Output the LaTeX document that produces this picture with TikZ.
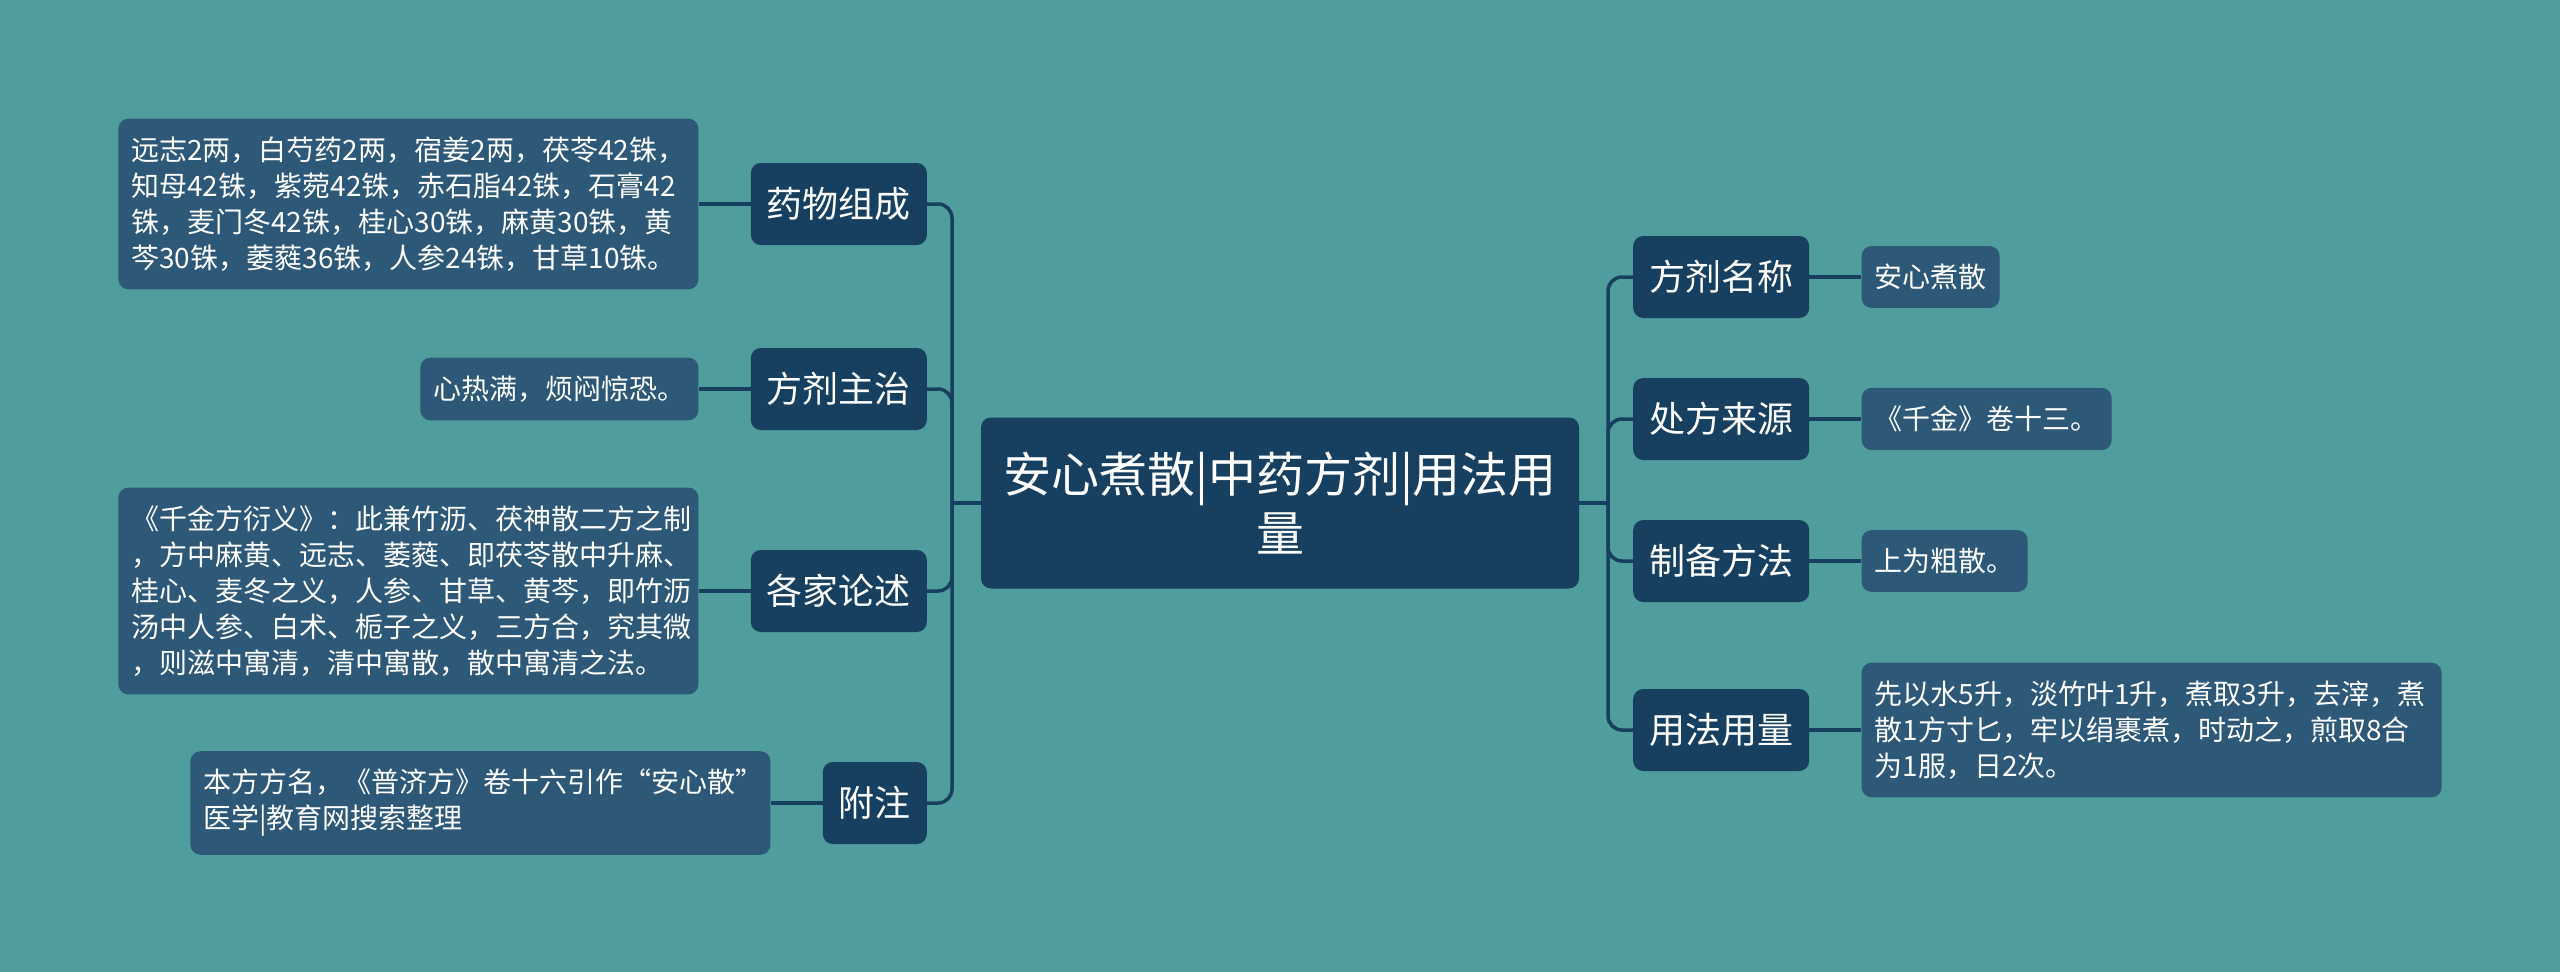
\documentclass[tikz,border=0pt]{standalone}
\usepackage{fontspec}
\setmainfont{Noto Sans CJK SC}
\usepackage{tikz}
\usetikzlibrary{positioning}

\definecolor{mapbg}{HTML}{4F9D9D}
\definecolor{mapdark}{HTML}{173F5F}
\definecolor{mapleaf}{HTML}{2E5878}

\begin{document}
\begin{tikzpicture}[x=1pt, y=-1pt,
  root/.style={fill=mapdark, rounded corners=10pt, text=white, align=center,
    font=\fontsize{48}{59}\selectfont, minimum width=598pt, minimum height=171pt},
  topic/.style={fill=mapdark, rounded corners=10pt, text=white,
    font=\fontsize{36}{42}\selectfont, inner xsep=16pt, minimum height=82pt},
  leaf/.style={fill=mapleaf, rounded corners=10pt, text=white, align=left,
    font=\fontsize{28}{36}\selectfont, inner xsep=13pt, inner ysep=18pt},
  link/.style={draw=mapdark, line width=3.5pt, rounded corners=14pt}]
\fill[mapbg] (0,0) rectangle (2560,972);

% centre
\node[root] (root) at (1280,503) {安心煮散|中药方剂|用法用\\量};
\coordinate (jl) at (952,503);
\coordinate (jr) at (1608,503);

% left branches
\node[topic, anchor=east] (drug) at (927,204) {药物组成};
\node[topic, anchor=east] (cure) at (927,389) {方剂主治};
\node[topic, anchor=east] (review) at (927,591) {各家论述};
\node[topic, anchor=east] (note) at (927,803) {附注};

\node[leaf, text width=554pt, left=52pt of drug] (drugL) {远志2两，白芍药2两，宿姜2两，茯苓42铢，\\知母42铢，紫菀42铢，赤石脂42铢，石膏42\\铢，麦门冬42铢，桂心30铢，麻黄30铢，黄\\芩30铢，萎蕤36铢，人参24铢，甘草10铢。};
\node[leaf, left=52pt of cure] (cureL) {心热满，烦闷惊恐。};
\node[leaf, text width=554pt, left=52pt of review] (reviewL) {《千金方衍义》：此兼竹沥、茯神散二方之制\\，方中麻黄、远志、萎蕤、即茯苓散中升麻、\\桂心、麦冬之义，人参、甘草、黄芩，即竹沥\\汤中人参、白术、栀子之义，三方合，究其微\\，则滋中寓清，清中寓散，散中寓清之法。};
\node[leaf, text width=554pt, left=52pt of note] (noteL) {本方方名，《普济方》卷十六引作“安心散”\\医学|教育网搜索整理};

% right branches
\node[topic, anchor=west] (fname) at (1633,277) {方剂名称};
\node[topic, anchor=west] (origin) at (1633,419) {处方来源};
\node[topic, anchor=west] (prep) at (1633,561) {制备方法};
\node[topic, anchor=west] (usage) at (1633,730) {用法用量};

\node[leaf, right=52pt of fname] (fnameL) {安心煮散};
\node[leaf, right=52pt of origin] (originL) {《千金》卷十三。};
\node[leaf, right=52pt of prep] (prepL) {上为粗散。};
\node[leaf, text width=554pt, right=52pt of usage] (usageL) {先以水5升，淡竹叶1升，煮取3升，去滓，煮\\散1方寸匕，牢以绢裹煮，时动之，煎取8合\\为1服，日2次。};

% connectors
\draw[link] (root.west) -- (jl);
\draw[link] (root.east) -- (jr);
\foreach \t in {drug,cure,review,note}
  \draw[link] (jl) |- (\t.east);
\foreach \t in {fname,origin,prep,usage}
  \draw[link] (jr) |- (\t.west);
\foreach \t in {drug,cure,review,note}
  \draw[link] (\t.west) -- (\t L.east);
\foreach \t in {fname,origin,prep,usage}
  \draw[link] (\t.east) -- (\t L.west);
\end{tikzpicture}
\end{document}
